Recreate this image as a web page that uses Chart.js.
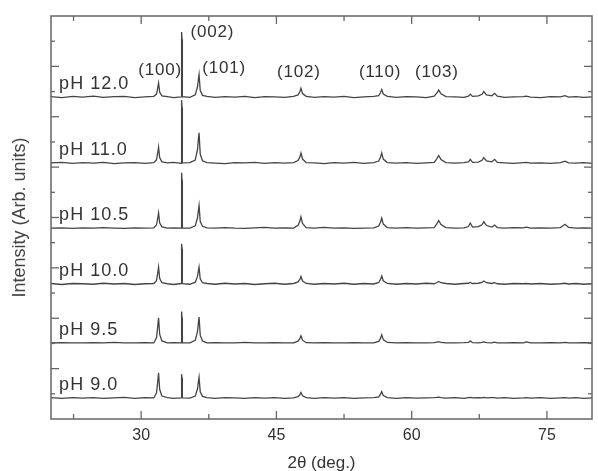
<!DOCTYPE html>
<html>
<head>
<meta charset="utf-8">
<script src="https://cdn.jsdelivr.net/npm/chart.js@4.4.1/dist/chart.umd.min.js"></script>
<style>
html,body{margin:0;padding:0;background:#fff;}
canvas{display:block;}
</style>
</head>
<body>
<canvas id="c" width="598" height="471"></canvas>
<script>
// ---- data ----
const twoTheta = [20,21.2,22.4,23.5,24.7,25.8,27,28.1,29.3,30.4,
  31.4,31.7,31.85,31.93,32.05,32.3,32.9,33.6,34.43,34.47,
  34.5,34.53,34.57,35.4,36.0,36.25,36.35,36.42,36.55,36.8,
  37.3,38.2,39.3,40.4,41.5,42.6,43.7,44.8,45.9,46.9,
  47.4,47.6,47.72,47.9,48.3,49.2,50.3,51.4,52.5,53.6,
  54.7,55.8,56.35,56.55,56.68,56.85,57.3,58.3,59.4,60.5,
  61.6,62.5,62.8,63.0,63.25,63.8,64.8,65.8,66.3,66.5,
  66.75,67.4,67.8,68.0,68.3,68.9,69.2,69.5,70.3,71.3,
  72.4,72.7,73.2,74.3,75.4,76.5,77.0,77.4,78.2,79.1,
  80];

const pH120 = [0.02,-0.02,0.03,0.00,0.04,-0.01,0.02,0.03,-0.02,0.01,
  0.03,0.12,0.39,0.56,0.20,0.05,0.02,-0.02,0.01,2.40,
  2.58,2.30,0.02,-0.01,0.09,0.41,0.72,0.90,0.27,0.07,
  0.03,-0.01,0.02,0.00,0.03,-0.02,0.02,0.01,-0.01,0.03,
  0.09,0.21,0.35,0.14,0.03,-0.01,0.02,0.00,0.03,-0.02,
  0.01,0.03,0.06,0.18,0.30,0.12,0.03,-0.01,0.02,0.01,
  -0.02,0.04,0.17,0.28,0.13,0.02,0.01,-0.01,0.04,0.12,
  0.03,0.05,0.11,0.22,0.09,0.05,0.15,0.04,-0.01,0.01,
  0.02,0.04,0.00,-0.02,0.02,0.01,0.06,0.00,0.02,-0.01,
  0.01];
const pH110 = [0.01,0.03,-0.01,0.02,0.00,0.03,-0.02,0.01,0.02,-0.01,
  0.02,0.13,0.44,0.63,0.22,0.05,0.01,0.03,-0.01,2.30,
  2.50,2.20,0.01,0.02,0.12,0.54,0.96,1.20,0.36,0.09,
  0.02,0.00,-0.02,0.02,0.01,0.03,-0.01,0.02,0.00,0.02,
  0.10,0.24,0.40,0.16,0.02,0.01,-0.02,0.02,0.00,0.03,
  -0.01,0.02,0.08,0.24,0.40,0.16,0.02,0.00,0.02,-0.01,
  0.01,0.03,0.18,0.30,0.14,0.02,0.00,0.02,0.05,0.15,
  0.03,0.04,0.11,0.22,0.09,0.05,0.15,0.03,0.01,-0.01,
  0.02,0.03,0.00,0.01,-0.01,0.02,0.08,0.01,0.00,0.02,
  -0.01];
const pH105 = [0.00,0.01,-0.01,0.01,0.00,0.02,0.00,-0.01,0.01,0.00,
  0.01,0.12,0.42,0.60,0.21,0.05,0.00,0.01,0.00,2.00,
  2.20,1.90,0.01,0.00,0.09,0.41,0.72,0.90,0.27,0.07,
  0.01,0.00,0.02,0.00,-0.01,0.01,0.03,0.00,0.01,0.00,
  0.11,0.27,0.45,0.18,0.02,0.00,0.03,0.00,0.01,-0.01,
  0.00,0.01,0.08,0.24,0.40,0.16,0.02,0.00,0.02,0.00,
  0.01,0.02,0.18,0.30,0.14,0.02,0.00,0.01,0.06,0.20,
  0.04,0.06,0.13,0.25,0.10,0.04,0.12,0.02,0.00,0.02,
  0.01,0.04,0.00,0.01,0.00,0.02,0.15,0.03,0.00,0.01,
  0.00];
const pH100 = [0.02,-0.02,0.02,0.01,-0.01,0.03,0.00,0.02,-0.02,0.01,
  0.02,0.13,0.47,0.67,0.23,0.05,0.01,-0.02,0.02,1.45,
  1.60,1.40,0.01,-0.01,0.07,0.30,0.54,0.67,0.20,0.05,
  0.02,-0.01,0.03,0.00,0.02,-0.02,0.01,0.03,-0.01,0.02,
  0.08,0.18,0.30,0.12,0.02,-0.01,0.02,0.00,0.03,-0.01,
  0.02,0.00,0.06,0.19,0.32,0.13,0.02,-0.01,0.02,0.00,
  0.03,0.01,0.06,0.10,0.05,0.02,-0.01,0.02,0.03,0.06,
  0.02,0.03,0.06,0.12,0.05,0.02,0.05,0.01,-0.01,0.02,
  0.01,0.02,0.00,0.02,-0.01,0.01,0.03,0.00,0.02,-0.01,
  0.01];
const pH95 = [0.00,0.01,0.00,0.00,0.01,0.00,0.02,0.00,0.00,0.01,
  0.00,0.20,0.70,1.00,0.35,0.08,0.00,0.01,0.00,1.05,
  1.25,1.00,0.00,0.00,0.10,0.46,0.82,1.03,0.31,0.08,
  0.00,0.01,0.00,0.00,0.02,0.00,0.00,0.01,0.00,0.00,
  0.07,0.17,0.28,0.11,0.01,0.00,0.01,0.00,0.00,0.01,
  0.00,0.00,0.06,0.19,0.32,0.13,0.02,0.00,0.01,0.00,
  0.00,0.01,0.03,0.05,0.02,0.00,0.00,0.01,0.02,0.08,
  0.01,0.00,0.02,0.04,0.01,0.00,0.03,0.00,0.00,0.01,
  0.00,0.04,0.00,0.00,0.01,0.00,0.02,0.00,0.00,0.01,
  0.00];
const pH90 = [0.02,-0.01,0.02,0.00,0.02,-0.01,0.01,0.03,-0.01,0.02,
  0.01,0.20,0.70,1.00,0.35,0.08,0.02,-0.01,0.01,0.85,
  0.95,0.80,0.01,0.00,0.08,0.37,0.66,0.83,0.25,0.07,
  0.02,-0.01,0.02,0.01,-0.01,0.02,0.00,0.02,-0.01,0.01,
  0.06,0.13,0.22,0.09,0.02,-0.01,0.02,0.00,0.02,-0.01,
  0.01,0.02,0.05,0.16,0.26,0.10,0.02,-0.01,0.02,0.00,
  0.01,0.02,0.03,0.04,0.02,0.00,0.02,-0.01,0.02,0.03,
  0.01,0.02,0.01,0.03,0.01,0.02,0.02,0.00,0.02,-0.01,
  0.01,0.02,0.00,0.02,-0.01,0.01,0.02,0.00,0.02,-0.01,
  0.01];

const sampleNames = ['pH 12.0','pH 11.0','pH 10.5','pH 10.0','pH 9.5','pH 9.0'];
const sampleSeries = [pH120, pH110, pH105, pH100, pH95, pH90];
const offsets = [12.78, 10.16, 7.58, 5.36, 3.02, 0.83];   // vertical stacking (intensity units)

const peakNames = ['(100)','(002)','(101)','(102)','(110)','(103)'];
const peakLabelX = [32.1, 37.9, 39.2, 47.5, 56.5, 62.8];
const peakLabelY = [13.85, 15.36, 13.93, 13.78, 13.78, 13.78];

const xMajorTicks = [30, 45, 60, 75];
const xMinorTicks = [22.5, 37.5, 52.5, 67.5];
const yMajorTicks = [2, 4, 6, 8, 10, 12, 14];
const yMinorTicks = [1, 3, 5, 7, 9, 11, 13, 15];

// ---- chart ----
const FONT = '"Liberation Sans", Arial, Helvetica, sans-serif';
const datasets = sampleSeries.map((s, i) => ({
  label: sampleNames[i],
  data: twoTheta.map((t, k) => ({x: t, y: s[k] + offsets[i]})),
  borderColor: '#444',
  borderWidth: 1.3,
  pointRadius: 0,
  tension: 0,
  fill: false
}));

const framePlugin = {
  id: 'frameTicks',
  afterDatasetsDraw(chart) {
    const {ctx, chartArea: a, scales: {x, y}} = chart;
    ctx.save();
    ctx.strokeStyle = '#666';
    ctx.lineWidth = 1.5;
    ctx.strokeRect(a.left, a.top, a.right - a.left, a.bottom - a.top);
    ctx.lineWidth = 1.3;
    const seg = (x1, y1, x2, y2) => { ctx.beginPath(); ctx.moveTo(x1, y1); ctx.lineTo(x2, y2); ctx.stroke(); };
    xMajorTicks.forEach(v => { const p = x.getPixelForValue(v); seg(p, a.bottom, p, a.bottom - 8); seg(p, a.top, p, a.top + 8); });
    xMinorTicks.forEach(v => { const p = x.getPixelForValue(v); seg(p, a.bottom, p, a.bottom - 5); seg(p, a.top, p, a.top + 5); });
    yMajorTicks.forEach(v => { const p = y.getPixelForValue(v); seg(a.left, p, a.left + 8, p); seg(a.right, p, a.right - 8, p); });
    yMinorTicks.forEach(v => { const p = y.getPixelForValue(v); seg(a.left, p, a.left + 4, p); seg(a.right, p, a.right - 4, p); });

    ctx.fillStyle = '#333';
    ctx.textBaseline = 'middle';
    ctx.textAlign = 'left';
    ctx.font = '18px ' + FONT;
    if ('letterSpacing' in ctx) ctx.letterSpacing = '1px';
    sampleNames.forEach((n, i) => {
      ctx.fillText(n, x.getPixelForValue(20.9), y.getPixelForValue(offsets[i] + 0.52));
    });
    ctx.textAlign = 'center';
    ctx.font = '17px ' + FONT;
    if ('letterSpacing' in ctx) ctx.letterSpacing = '0.8px';
    peakNames.forEach((n, i) => {
      ctx.fillText(n, x.getPixelForValue(peakLabelX[i]), y.getPixelForValue(peakLabelY[i]));
    });
    ctx.restore();
  }
};

new Chart(document.getElementById('c'), {
  type: 'line',
  data: {datasets},
  options: {
    responsive: false,
    animation: false,
    devicePixelRatio: 1,
    layout: {padding: {top: 16, right: 6, left: 0, bottom: 0}},
    plugins: {legend: {display: false}, tooltip: {enabled: false}},
    scales: {
      x: {
        type: 'linear',
        position: 'bottom',
        min: 20, max: 80,
        afterBuildTicks: s => { s.ticks = xMajorTicks.map(v => ({value: v})); },
        afterFit: s => { s.height = 52; },
        grid: {display: false, drawTicks: false},
        border: {display: false},
        ticks: {color: '#333', font: {family: FONT, size: 16}, padding: 7, maxRotation: 0},
        title: {display: true, text: '2θ (deg.)', color: '#333', font: {family: FONT, size: 17, lineHeight: 1}, padding: {top: 0, bottom: -1}}
      },
      y: {
        type: 'linear',
        position: 'left',
        min: 0, max: 16,
        afterFit: s => { s.width = 51; },
        grid: {display: false, drawTicks: false},
        border: {display: false},
        ticks: {display: false},
        title: {display: true, text: 'Intensity (Arb. units)', color: '#444', font: {family: FONT, size: 18, lineHeight: 1.2}, padding: {top: 9, bottom: 0}}
      }
    }
  },
  plugins: [framePlugin]
});
</script>
</body>
</html>
